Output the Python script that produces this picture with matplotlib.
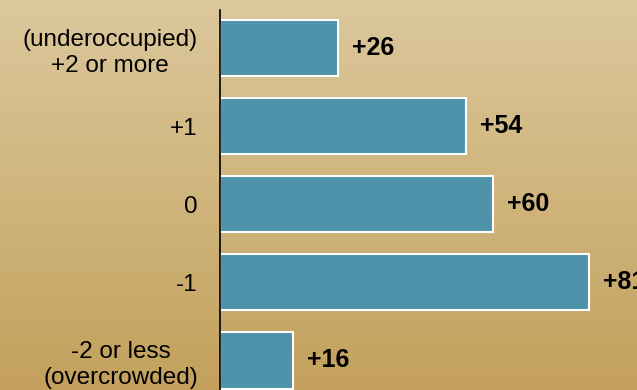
import matplotlib
matplotlib.use('Agg')
import matplotlib.pyplot as plt
from matplotlib.colors import LinearSegmentedColormap
import numpy as np

plt.rcParams['font.family'] = ['Liberation Sans', 'DejaVu Sans']

categories = ['(underoccupied)\n+2 or more', '+1', '0', '-1', '-2 or less\n(overcrowded)']
values = [26, 54, 60, 81, 16]
labels = ['+26', '+54', '+60', '+81', '+16']

fig = plt.figure(figsize=(6.37, 3.9), dpi=100)

# gradient background
bg = fig.add_axes([0, 0, 1, 1])
grad = np.linspace(0, 1, 256).reshape(-1, 1)
cmap = LinearSegmentedColormap.from_list('tan', ['#DCC89D', '#C3A15C'])
bg.imshow(grad, cmap=cmap, aspect='auto', extent=[0, 1, 0, 1], origin='upper')
bg.axis('off')

ax = fig.add_axes([220/637, 0, 417/637, 380/390])
ax.set_facecolor('none')
y = np.arange(len(categories))
bars = ax.barh(y, values, height=0.72, color='#4F93AB', edgecolor='white', linewidth=1.5)
for bar, lab in zip(bars, labels):
    ax.annotate(lab, (bar.get_width(), bar.get_y() + bar.get_height()/2),
                xytext=(10, 0), textcoords='offset points',
                ha='left', va='center', fontsize=18, fontweight='bold', color='black')

ax.set_xlim(0, 91.5)
ax.set_ylim(4.378, -0.487)
ax.set_yticks(y)
ax.set_yticklabels(categories, fontsize=17.5, multialignment='center', linespacing=1.25)
ax.tick_params(axis='y', length=0, pad=16)
ax.set_xticks([])
for s in ['top', 'right', 'bottom']:
    ax.spines[s].set_visible(False)
ax.spines['left'].set_linewidth(1.2)
ax.spines['left'].set_color('black')

plt.savefig('out.png', dpi=100)
